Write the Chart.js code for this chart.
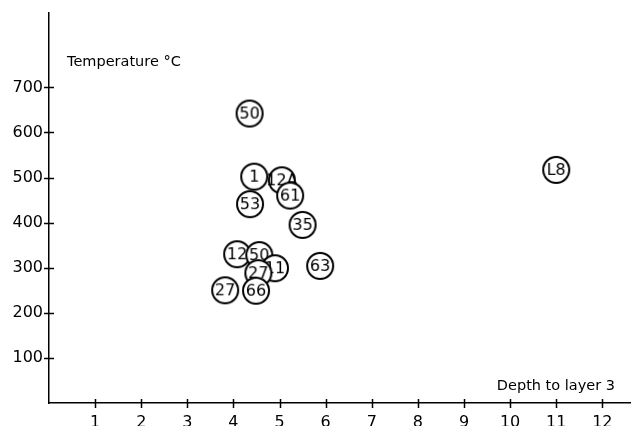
<!DOCTYPE html>
<html>
<head>
<meta charset="utf-8">
<script src="https://cdn.jsdelivr.net/npm/chart.js@4/dist/chart.umd.min.js"></script>
<style>
html,body{margin:0;padding:0;background:#fff;}
canvas{display:block;}
</style>
</head>
<body>
<canvas id="c" width="631" height="426"></canvas>
<script>
// Data
const siteLabels = ['50','1','12A','61','53','35','12','50','11','27','66','27','63','L8'];
const depthToLayer3 = [4.35,4.45,5.05,5.23,4.36,5.50,4.08,4.56,4.90,4.54,4.49,3.82,5.88,11.0];
const temperatureC = [642,502,494,460,441,395,330,328,299,288,249,250,304,517];
const xTickValues = [1,2,3,4,5,6,7,8,9,10,11,12];
const yTickValues = [100,200,300,400,500,600,700];

const FONT = '"DejaVu Sans", sans-serif';

function makeMarker(text){
  const cv = document.createElement('canvas');
  cv.width = 40; cv.height = 32;
  const g = cv.getContext('2d');
  g.fillStyle = '#fff';
  g.strokeStyle = '#000';
  g.lineWidth = 2;
  g.beginPath();
  g.arc(20, 16, 13, 0, Math.PI*2);
  g.fill();
  g.stroke();
  g.fillStyle = '#000';
  g.font = '16px ' + FONT;
  g.textAlign = 'center';
  g.textBaseline = 'middle';
  g.fillText(text, 20, 17);
  return cv;
}
const markers = siteLabels.map(makeMarker);

const points = depthToLayer3.map((x,i)=>({x:x, y:temperatureC[i]}));

const tickPlugin = {
  id:'crossTicks',
  afterDraw(chart){
    const ctx = chart.ctx;
    const xs = chart.scales.x, ys = chart.scales.y;
    const ca = chart.chartArea;
    ctx.save();
    ctx.strokeStyle = '#000';
    ctx.lineWidth = 1.5;
    ctx.beginPath();
    xTickValues.forEach(v=>{
      const px = Math.round(xs.getPixelForValue(v)) + 0.5;
      ctx.moveTo(px, ca.bottom - 4);
      ctx.lineTo(px, ca.bottom + 5);
    });
    yTickValues.forEach(v=>{
      const py = Math.round(ys.getPixelForValue(v)) + 0.5;
      ctx.moveTo(ca.left - 5, py);
      ctx.lineTo(ca.left + 5, py);
    });
    ctx.stroke();
    ctx.fillStyle = '#000';
    ctx.font = '14.5px ' + FONT;
    ctx.textBaseline = 'middle';
    ctx.textAlign = 'left';
    ctx.fillText('Temperature °C', 67, 62);
    ctx.textAlign = 'right';
    ctx.fillText('Depth to layer 3', 615, 386);
    ctx.restore();
  }
};

new Chart(document.getElementById('c'), {
  type:'scatter',
  data:{
    datasets:[{
      data: points,
      pointStyle: markers,
      pointRadius: 13,
      pointHoverRadius: 13
    }]
  },
  options:{
    responsive:false,
    animation:false,
    events:[],
    layout:{autoPadding:false, padding:{top:13,right:1,left:0,bottom:0}},
    plugins:{legend:{display:false},tooltip:{enabled:false}},
    scales:{
      x:{
        type:'linear', min:0, max:12.6,
        grid:{display:false},
        border:{display:true,color:'#000',width:1.5},
        afterBuildTicks(s){ s.ticks = xTickValues.map(v=>({value:v})); },
        afterFit(s){ s.height = 23; s.paddingLeft = 0; s.paddingRight = 0; },
        ticks:{color:'#000', font:{family:FONT,size:16}, padding:2, maxRotation:0, autoSkip:false,
               callback:(v)=>String(v)}
      },
      y:{
        type:'linear', min:0, max:865,
        grid:{display:false},
        border:{display:true,color:'#000',width:1.5},
        afterBuildTicks(s){ s.ticks = yTickValues.map(v=>({value:v})); },
        afterFit(s){ s.width = 49; s.paddingTop = 0; s.paddingBottom = 0; },
        ticks:{color:'#000', font:{family:FONT,size:16}, padding:-2, autoSkip:false,
               callback:(v)=>String(v)}
      }
    }
  },
  plugins:[tickPlugin]
});
</script>
</body>
</html>
